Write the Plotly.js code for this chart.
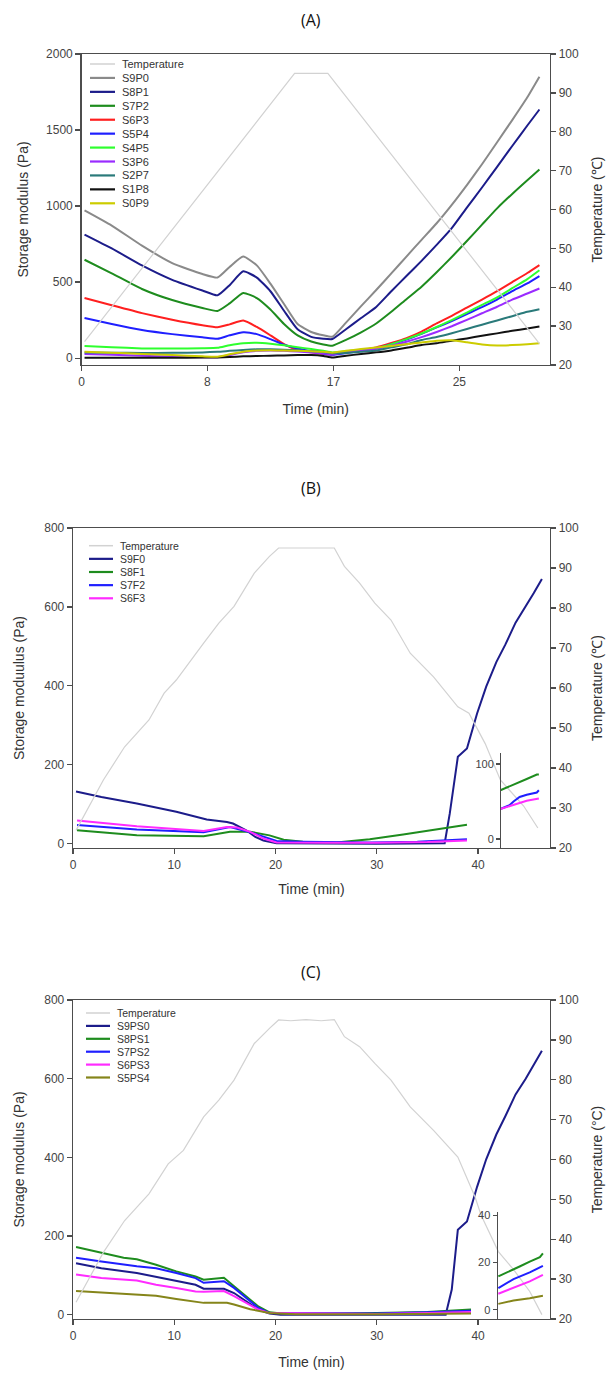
<!DOCTYPE html>
<html>
<head>
<meta charset="utf-8">
<script src="https://cdn.plot.ly/plotly-3.0.1.min.js"></script>
<style>
html,body{margin:0;padding:0;background:#fff;}
#chart{width:613px;height:1373px;}
</style>
</head>
<body>
<div id="chart"></div>
<script>
// ---------------- Panel A data ----------------
const timeA = [0.2, 2, 4, 6, 8, 9, 9.8, 10.7, 11.6, 12.5, 13.4, 14.3, 15.2, 16, 16.6, 17.5, 18.5, 19.5, 20.5, 21.5, 22.5, 23.5, 24.5, 25.5, 26.5, 27.5, 28.5, 29.5, 30.3];
const tempTimeA = [0.2, 14.1, 16.3, 30.3];
const tempA = [26, 95, 95, 25.5];
const S9P0 = [972, 872, 740, 625, 553, 530, 600, 668, 610, 490, 356, 224, 172, 150, 141, 234, 342, 448, 557, 668, 778, 887, 1008, 1138, 1275, 1420, 1565, 1715, 1850];
const S8P1 = [813, 722, 610, 515, 445, 413, 480, 571, 530, 440, 312, 190, 140, 128, 126, 190, 264, 337, 440, 540, 640, 745, 855, 990, 1122, 1258, 1395, 1530, 1635];
const S7P2 = [647, 558, 455, 382, 330, 310, 360, 429, 395, 320, 225, 150, 110, 90, 82, 120, 170, 228, 305, 388, 470, 565, 665, 770, 878, 985, 1080, 1170, 1240];
const S6P3 = [396, 348, 296, 252, 216, 203, 222, 247, 205, 150, 93, 53, 38, 28, 24, 38, 54, 71, 100, 132, 175, 228, 278, 332, 385, 440, 500, 560, 612];
const S5P4 = [264, 224, 185, 158, 137, 127, 150, 170, 158, 125, 88, 64, 45, 30, 22, 34, 48, 65, 92, 122, 160, 202, 244, 290, 335, 385, 440, 492, 540];
const S4P5 = [80, 72, 64, 63, 65, 68, 85, 98, 101, 95, 85, 72, 60, 48, 38, 45, 55, 66, 92, 125, 162, 205, 250, 300, 350, 400, 460, 520, 578];
const S3P6 = [28, 22, 16, 10, 6, 6, 20, 38, 48, 50, 48, 44, 38, 30, 24, 38, 50, 62, 82, 108, 138, 172, 210, 252, 295, 338, 385, 425, 458];
const S2P7 = [38, 36, 34, 35, 38, 42, 48, 54, 58, 58, 56, 52, 46, 40, 32, 34, 42, 51, 71, 91, 119, 139, 164, 192, 220, 248, 276, 305, 322];
const S1P8 = [2, 2, 2, 3, 4, 5, 8, 12, 14, 16, 18, 20, 20, 14, 4, 16, 27, 38, 51, 68, 86, 98, 115, 130, 147, 163, 180, 195, 208];
const S0P9 = [42, 35, 28, 20, 12, 10, 25, 42, 50, 52, 50, 48, 46, 42, 36, 48, 60, 70, 80, 92, 103, 115, 118, 105, 90, 83, 86, 92, 98];
const namesA = ['S9P0','S8P1','S7P2','S6P3','S5P4','S4P5','S3P6','S2P7','S1P8','S0P9'];
const seriesA = [S9P0, S8P1, S7P2, S6P3, S5P4, S4P5, S3P6, S2P7, S1P8, S0P9];
const colorsA = ['#8a8a8a','#1c1c8a','#1e8c1e','#ff1f1f','#1f1fff','#2eff2e','#9a2bff','#2a7a7a','#111111','#cccc00'];
const ticksA = [0, 8.333, 16.667, 25];
const tickTextA = ['0','8','17','25'];

// ---------------- Panel B data ----------------
const tempTimeB = [0.3, 3.0, 5.1, 7.5, 9.0, 10.2, 12.9, 14.4, 15.9, 17.9, 19.4, 20.3, 25.8, 26.8, 28.3, 29.8, 31.4, 33.3, 35.6, 38.0, 39.1, 40.7, 42.2, 44.5, 45.9];
const tempB = [24.4, 37.0, 45.3, 52.0, 58.7, 62.0, 71.2, 76.2, 80.4, 88.7, 92.9, 95.0, 95.0, 90.4, 86.2, 81.2, 77.0, 68.7, 62.8, 55.3, 53.7, 46.1, 37.0, 30.5, 25.0];
const tS9F0 = [0.3, 2.8, 6.3, 10.2, 13.2, 15.2, 15.8, 17.1, 18.0, 18.8, 20.1, 25, 30, 36.7, 37.2, 38.0, 38.9, 39.9, 40.8, 41.8, 42.7, 43.7, 44.7, 45.5, 46.3];
const S9F0 = [132, 118, 102, 81, 61, 55, 51, 34, 17, 8, 1, 0, 0, 1, 76, 220, 241, 330, 398, 460, 505, 560, 600, 635, 671];
const tS8F1 = [0.4, 6.3, 12.9, 13.9, 15.5, 17.5, 19.4, 20.8, 22.7, 26.0, 29.3, 32.6, 35.5, 38.9];
const S8F1 = [34, 21, 19, 23, 30, 30, 21, 10, 5, 3, 11, 23, 35, 48];
const tS7F2 = [0.4, 6.3, 12.9, 14.5, 15.5, 17.5, 18.8, 20.1, 22.7, 29.3, 34.0, 36.5, 38.9];
const S7F2 = [47, 36, 29, 38, 42, 29, 17, 7, 5, 3, 5, 8, 11];
const tS6F3 = [0.4, 6.3, 12.9, 14.5, 15.2, 16.2, 17.5, 18.8, 20.1, 25.0, 30.0, 35.0, 38.9];
const S6F3 = [59, 44, 32, 38, 42, 41, 30, 13, 3, 2, 2, 4, 8];
// inset (B)
const tInsetS8F1 = [42.2, 43.5, 44.8, 45.8, 46.0];
const insetS8F1 = [65, 72, 80, 86, 86];
const tInsetS7F2 = [42.2, 43.1, 43.5, 44.1, 44.8, 45.4, 45.8, 46.0];
const insetS7F2 = [40, 45, 50, 56, 59, 61, 62, 65];
const tInsetS6F3 = [42.2, 43.5, 44.8, 46.0];
const insetS6F3 = [40, 45, 51, 54];
const namesB = ['S9F0','S8F1','S7F2','S6F3'];
const colorsB = ['#1c1c8a','#1e8c1e','#1f1fff','#ff2bff'];

// ---------------- Panel C data ----------------
const tempTimeC = [0.3, 3.0, 5.1, 7.5, 9.4, 10.9, 12.9, 14.4, 15.9, 17.9, 19.4, 20.3, 21.5, 23.0, 24.5, 25.8, 26.8, 28.3, 29.8, 31.4, 33.3, 35.6, 38.0, 39.7, 40.3, 42.0, 43.5, 45.1, 46.3];
const tempC = [24.2, 36.7, 44.7, 51.4, 58.9, 62.3, 70.7, 74.9, 79.9, 89.1, 92.9, 95.0, 94.8, 95.1, 94.8, 95.1, 90.8, 88.3, 84.1, 79.9, 73.2, 67.3, 60.6, 50.6, 46.0, 36.9, 32.4, 26.9, 21.1];
const tS9PS0 = [0.3, 2.8, 6.3, 10.2, 12.1, 12.9, 14.9, 15.9, 17.1, 18.3, 19.4, 20.5, 25, 30, 36.8, 37.4, 38.0, 38.9, 39.9, 40.8, 41.8, 42.7, 43.7, 44.7, 45.5, 46.3];
const S9PS0 = [131, 118, 106, 86, 76, 66, 66, 55, 34, 13, 3, 0, 0, 0, 0, 64, 216, 237, 325, 395, 458, 505, 560, 600, 635, 671];
const tS8PS1 = [0.3, 2.8, 5.0, 6.3, 8.2, 10.2, 12.1, 12.9, 14.9, 15.9, 17.1, 18.3, 19.4, 20.6, 25, 30, 35, 39.3];
const S8PS1 = [172, 158, 145, 141, 127, 110, 97, 89, 94, 72, 47, 21, 6, 3, 3, 4, 7, 13];
const tS7PS2 = [0.3, 2.8, 6.3, 8.2, 10.2, 12.1, 12.9, 14.9, 15.9, 17.1, 18.3, 19.4, 25, 30, 35, 39.3];
const S7PS2 = [145, 135, 123, 118, 106, 93, 81, 85, 68, 42, 17, 4, 3, 3, 6, 10];
const tS6PS3 = [0.3, 2.8, 6.3, 8.2, 10.2, 12.1, 12.9, 14.9, 15.9, 17.1, 18.3, 19.4, 25, 30, 35, 39.3];
const S6PS3 = [102, 93, 87, 76, 68, 59, 58, 60, 47, 30, 13, 4, 2, 2, 4, 7];
const tS5PS4 = [0.3, 4.4, 8.2, 10.2, 12.1, 12.9, 15.2, 15.9, 17.5, 19.4, 22, 30, 39.3];
const S5PS4 = [60, 54, 48, 40, 32, 30, 30, 26, 14, 4, 1, 1, 3];
// inset (C)
const tInsetS8PS1 = [42.0, 43.5, 44.1, 45.1, 46.1, 46.4];
const insetS8PS1 = [14.1, 16.9, 18.3, 20.4, 22.3, 23.9];
const tInsetC = [42.0, 43.5, 45.1, 46.4];
const insetS7PS2 = [9.2, 13.0, 15.8, 18.6];
const insetS6PS3 = [6.8, 9.4, 12.0, 14.8];
const insetS5PS4 = [2.5, 3.9, 4.9, 5.9];
const namesC = ['S9PS0','S8PS1','S7PS2','S6PS3','S5PS4'];
const colorsC = ['#1c1c8a','#1e8c1e','#1f1fff','#ff2bff','#85851a'];

const tempColor = '#d2d2d2';

// ---------------- geometry helpers ----------------
const W = 613, H = 1373;
const px = x => x / W;
const py = y => 1 - y / H;

const traces = [];
function line(x, y, color, xa, ya, width, shape) {
  traces.push({x: x, y: y, type: 'scatter', mode: 'lines', xaxis: xa, yaxis: ya,
    line: {color: color, width: width || 2, shape: shape || 'linear', smoothing: 0.5},
    showlegend: false, hoverinfo: 'skip'});
}

// Panel A traces
line(tempTimeA, tempA, tempColor, 'x', 'y2', 1.2);
seriesA.forEach((s, i) => line(timeA, s, colorsA[i], 'x', 'y', 2, 'spline'));

// Panel B traces
line(tempTimeB, tempB, tempColor, 'x2', 'y4', 1.2);
line(tS9F0, S9F0, colorsB[0], 'x2', 'y3');
line(tS8F1, S8F1, colorsB[1], 'x2', 'y3');
line(tS7F2, S7F2, colorsB[2], 'x2', 'y3');
line(tS6F3, S6F3, colorsB[3], 'x2', 'y3');
line(tInsetS8F1, insetS8F1, colorsB[1], 'x2', 'y5');
line(tInsetS7F2, insetS7F2, colorsB[2], 'x2', 'y5');
line(tInsetS6F3, insetS6F3, colorsB[3], 'x2', 'y5');

// Panel C traces
line(tempTimeC, tempC, tempColor, 'x3', 'y7', 1.2);
line(tS9PS0, S9PS0, colorsC[0], 'x3', 'y6');
line(tS8PS1, S8PS1, colorsC[1], 'x3', 'y6');
line(tS7PS2, S7PS2, colorsC[2], 'x3', 'y6');
line(tS6PS3, S6PS3, colorsC[3], 'x3', 'y6');
line(tS5PS4, S5PS4, colorsC[4], 'x3', 'y6');
line(tInsetS8PS1, insetS8PS1, colorsC[1], 'x3', 'y8');
line(tInsetC, insetS7PS2, colorsC[2], 'x3', 'y8');
line(tInsetC, insetS6PS3, colorsC[3], 'x3', 'y8');
line(tInsetC, insetS5PS4, colorsC[4], 'x3', 'y8');

// ---------------- axes ----------------
const FONT = 'Liberation Sans, Arial, sans-serif';
const base = {showline: true, linecolor: '#4d4d4d', linewidth: 1.3, ticks: 'outside', ticklen: 5,
  tickwidth: 1.3, tickcolor: '#4d4d4d', showgrid: false, zeroline: false,
  tickfont: {family: FONT, size: 12, color: '#444'}};
const titleFont = {family: FONT, size: 14, color: '#333'};
function ax(extra) { return Object.assign({}, base, extra); }

const layout = {
  width: W, height: H,
  margin: {l: 0, r: 0, t: 0, b: 0},
  paper_bgcolor: '#fff', plot_bgcolor: 'rgba(0,0,0,0)',
  showlegend: false,
  font: {family: FONT, size: 12, color: '#444'},
  // Panel A
  xaxis: ax({domain: [px(81.5), px(550)], anchor: 'y', range: [0, 31], mirror: true,
    tickvals: ticksA, ticktext: tickTextA,
    title: {text: 'Time (min)', font: titleFont, standoff: 16}}),
  yaxis: ax({domain: [py(365), py(54)], anchor: 'x', range: [-45, 2000], tickvals: [0, 500, 1000, 1500, 2000],
    title: {text: 'Storage modulus (Pa)', font: titleFont, standoff: 14}}),
  yaxis2: ax({overlaying: 'y', side: 'right', anchor: 'x', range: [20, 100], dtick: 10,
    title: {text: 'Temperature (℃)', font: titleFont, standoff: 14}}),
  // Panel B
  xaxis2: ax({domain: [px(73), px(550)], anchor: 'y3', range: [0, 47.1], dtick: 10, mirror: true,
    title: {text: 'Time (min)', font: titleFont, standoff: 13}}),
  yaxis3: ax({domain: [py(848), py(528)], anchor: 'x2', range: [-11, 800], dtick: 200,
    title: {text: 'Storage moduulus (Pa)', font: titleFont, standoff: 16}}),
  yaxis4: ax({overlaying: 'y3', side: 'right', anchor: 'x2', range: [20, 100], dtick: 10,
    title: {text: 'Temperature (℃)', font: titleFont, standoff: 14}}),
  yaxis5: ax({domain: [py(848), py(753)], anchor: 'free', position: px(500), range: [-12, 114.7],
    tickvals: [0, 100], ticklen: 4, tickfont: {family: FONT, size: 11, color: '#444'}}),
  // Panel C
  xaxis3: ax({domain: [px(73), px(550)], anchor: 'y6', range: [0, 47.1], dtick: 10, mirror: true,
    title: {text: 'Time (min)', font: titleFont, standoff: 15}}),
  yaxis6: ax({domain: [py(1319), py(1000)], anchor: 'x3', range: [-11, 800], dtick: 200,
    title: {text: 'Storage modulus (Pa)', font: titleFont, standoff: 16}}),
  yaxis7: ax({overlaying: 'y6', side: 'right', anchor: 'x3', range: [20, 100], dtick: 10,
    title: {text: 'Temperature (°C)', font: titleFont, standoff: 14}}),
  yaxis8: ax({domain: [py(1319), py(1211.7)], anchor: 'free', position: px(496.5), range: [-3.9, 41.5],
    tickvals: [0, 20, 40], ticklen: 4, tickfont: {family: FONT, size: 11, color: '#444'}}),
  shapes: [],
  annotations: []
};

// panel titles
[['(A)', 20], ['(B)', 488], ['(C)', 972]].forEach(([t, y]) => {
  layout.annotations.push({text: t, xref: 'paper', yref: 'paper', x: px(311), y: py(y),
    xanchor: 'center', yanchor: 'middle', showarrow: false,
    font: {family: 'Open Sans, Liberation Sans, sans-serif', size: 16, color: '#111'}});
});

// in-plot legends (compact, as in the figure)
function legend(names, colors, lx0, lx1, tx, y0, dy, fs) {
  const all = ['Temperature'].concat(names);
  const cols = [tempColor].concat(colors);
  all.forEach((n, i) => {
    const y = y0 + i * dy;
    layout.shapes.push({type: 'line', xref: 'paper', yref: 'paper', x0: px(lx0), x1: px(lx1),
      y0: py(y), y1: py(y), line: {color: cols[i], width: i === 0 ? 1.5 : 2.2}});
    layout.annotations.push({text: n, xref: 'paper', yref: 'paper', x: px(tx), y: py(y),
      xanchor: 'left', yanchor: 'middle', showarrow: false,
      font: {family: FONT, size: fs, color: '#333'}});
  });
}
legend(namesA, colorsA, 90, 115, 120, 64, 13.93, 11);
legend(namesB, colorsB, 89, 113, 118, 545.7, 13.15, 10.5);
legend(namesC, colorsC, 86, 110, 115, 1013, 12.9, 10.5);

Plotly.newPlot('chart', traces, layout, {staticPlot: true, displayModeBar: false});
</script>
</body>
</html>
